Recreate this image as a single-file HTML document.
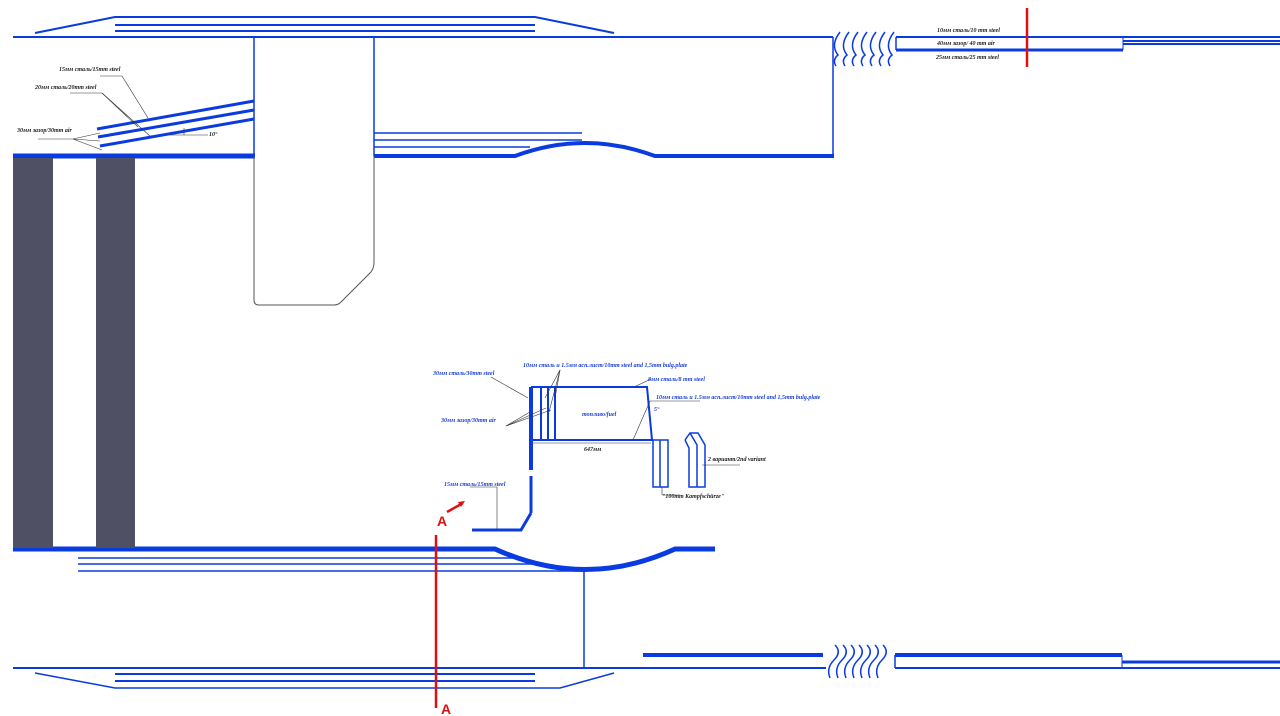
<!DOCTYPE html>
<html><head><meta charset="utf-8"><style>
html,body{margin:0;padding:0;background:#fff;}
svg{display:block;}
text{font-family:"Liberation Serif","Noto Serif CJK SC",serif;font-style:italic;font-weight:bold;font-size:6px;}
</style></head><body>
<svg width="1280" height="716" viewBox="0 0 1280 716" xmlns="http://www.w3.org/2000/svg">
<g fill="none" stroke="#0a3be0">
<!-- top hull -->
<line x1="13" y1="37" x2="833" y2="37" stroke-width="2"/>
<polyline points="35,33 115,17 535,17 614,33" stroke-width="2"/>
<line x1="115" y1="25" x2="535" y2="25" stroke-width="2"/>
<line x1="115" y1="31" x2="535" y2="31" stroke-width="2"/>
<line x1="833" y1="37" x2="833" y2="157" stroke-width="1.5"/>
<line x1="254" y1="37" x2="254" y2="156" stroke-width="1.5"/>
<line x1="374" y1="37" x2="374" y2="156" stroke-width="1.5"/>
<!-- inner top deck -->
<line x1="13" y1="156" x2="255" y2="156" stroke-width="5"/>
<path d="M374,156 L515,156 Q585,130 655,156 L834,156" stroke-width="4"/>
<line x1="374" y1="133" x2="582" y2="133" stroke-width="1.5"/>
<line x1="374" y1="140" x2="582" y2="140" stroke-width="1.5"/>
<line x1="374" y1="147" x2="530" y2="147" stroke-width="1.5"/>
<!-- sloped plates -->
<line x1="97" y1="129" x2="254" y2="101" stroke-width="3"/>
<line x1="98" y1="137" x2="254" y2="110" stroke-width="3"/>
<line x1="100" y1="146" x2="254" y2="119" stroke-width="3"/>
<!-- right top -->
<line x1="896" y1="37" x2="1280" y2="37" stroke-width="2"/>
<line x1="896" y1="50" x2="1123" y2="50" stroke-width="3"/>
<line x1="896" y1="37" x2="896" y2="50" stroke-width="1.5"/>
<line x1="1123" y1="37" x2="1123" y2="50" stroke-width="1"/>
<line x1="1123" y1="41" x2="1280" y2="41" stroke-width="2"/>
<line x1="1123" y1="44" x2="1280" y2="44" stroke-width="2"/>
<line x1="820" y1="37" x2="833" y2="37" stroke-width="2"/>
<g stroke-width="1.5">
<path d="M840,32 Q830,45 838,55 Q832,60 836,66"/>
<path d="M849,32 Q839,45 847,55 Q841,60 845,66"/>
<path d="M858,32 Q848,45 856,55 Q850,60 854,66"/>
<path d="M867,32 Q857,45 865,55 Q859,60 863,66"/>
<path d="M876,32 Q866,45 874,55 Q868,60 872,66"/>
<path d="M885,32 Q875,45 883,55 Q877,60 881,66"/>
<path d="M894,32 Q884,45 892,55 Q886,60 890,66"/>
</g>
<!-- bottom deck -->
<path d="M13,549 L495,549 Q585,590 675,549 L715,549" stroke-width="5"/>
<line x1="78" y1="558" x2="515" y2="558" stroke-width="1.5"/>
<line x1="78" y1="564" x2="545" y2="564" stroke-width="1.5"/>
<line x1="78" y1="571" x2="584" y2="571" stroke-width="1.5"/>
<line x1="584" y1="570" x2="584" y2="668" stroke-width="1.5"/>
<line x1="13" y1="668" x2="826" y2="668" stroke-width="2"/>
<polyline points="35,673 115,688 560,688 614,673" stroke-width="1.5"/>
<line x1="115" y1="674" x2="535" y2="674" stroke-width="2"/>
<line x1="115" y1="681" x2="535" y2="681" stroke-width="2"/>
<line x1="643" y1="655" x2="823" y2="655" stroke-width="4"/>
<line x1="895" y1="655" x2="1122" y2="655" stroke-width="4"/>
<line x1="895" y1="668" x2="1280" y2="668" stroke-width="2"/>
<line x1="895" y1="655" x2="895" y2="668" stroke-width="1.5"/>
<line x1="1122" y1="655" x2="1122" y2="668" stroke-width="1"/>
<line x1="1122" y1="662" x2="1280" y2="662" stroke-width="3"/>
<g stroke-width="1.5">
<path d="M835,645 Q842,652 834,660 Q826,668 830,678"/>
<path d="M843,645 Q850,652 842,660 Q834,668 838,678"/>
<path d="M851,645 Q858,652 850,660 Q842,668 846,678"/>
<path d="M859,645 Q866,652 858,660 Q850,668 854,678"/>
<path d="M867,645 Q874,652 866,660 Q858,668 862,678"/>
<path d="M875,645 Q882,652 874,660 Q866,668 870,678"/>
<path d="M883,645 Q890,652 882,660 Q874,668 878,678"/>
</g>
<!-- center section -->
<line x1="531" y1="387" x2="531" y2="470" stroke-width="4"/>
<line x1="531" y1="476" x2="531" y2="513" stroke-width="3"/>
<polyline points="531,513 521,530 472,530" stroke-width="3"/>
<line x1="541" y1="387" x2="541" y2="440" stroke-width="2"/>
<line x1="548" y1="387" x2="548" y2="440" stroke-width="2"/>
<line x1="555" y1="387" x2="555" y2="440" stroke-width="2"/>
<polyline points="531,387 647,387 652,440 531,440" stroke-width="2"/>
<rect x="653" y="440" width="15" height="47" stroke-width="1.5"/>
<line x1="660" y1="440" x2="660" y2="487" stroke-width="1.5"/>
<polyline points="685,440 690,433 698,433 705,445 705,487 689,487 689,448 685,440" stroke-width="1.5"/>
<polyline points="690,433 697,445 697,487" stroke-width="1.5"/>
</g>
<!-- tower -->
<path d="M254,156 L254,300 Q254,305 259,305 L334,305 Q338,305 341,302 L371,272 Q374,268 374,262 L374,156" fill="none" stroke="#555" stroke-width="1"/>
<!-- dark columns -->
<rect x="13" y="158" width="40" height="390" fill="#4f5064"/>
<rect x="96" y="158" width="39" height="390" fill="#4f5064"/>
<!-- leader lines -->
<g stroke="#333" stroke-width="0.6" fill="none">
<line x1="100" y1="76" x2="122" y2="76"/><line x1="122" y1="76" x2="148" y2="118"/>
<line x1="70" y1="93" x2="102" y2="93"/><line x1="102" y1="93" x2="138" y2="127"/><line x1="102" y1="93" x2="150" y2="136"/>
<line x1="38" y1="139" x2="73" y2="139"/><line x1="73" y1="139" x2="100" y2="133"/><line x1="73" y1="139" x2="100" y2="141"/><line x1="73" y1="139" x2="102" y2="150"/>
<line x1="170" y1="135" x2="208" y2="135"/><line x1="184" y1="128" x2="184" y2="135"/>
<line x1="491" y1="377" x2="528" y2="398"/>
<line x1="506" y1="426" x2="530" y2="412"/><line x1="506" y1="426" x2="546" y2="408"/><line x1="506" y1="426" x2="551" y2="410"/>
<line x1="560" y1="370" x2="545" y2="398"/><line x1="560" y1="370" x2="549" y2="412"/><line x1="560" y1="370" x2="555" y2="398"/>
<line x1="651" y1="379" x2="634" y2="387"/>
<line x1="700" y1="401" x2="650" y2="401"/><line x1="650" y1="401" x2="633" y2="440"/>
<line x1="533" y1="443" x2="651" y2="443"/>
<line x1="497" y1="487" x2="497" y2="530"/><line x1="470" y1="487" x2="497" y2="487"/>
<line x1="662" y1="487" x2="662" y2="495"/><line x1="662" y1="495" x2="680" y2="495"/>
<line x1="702" y1="465" x2="740" y2="465"/>
</g>
<!-- red marks -->
<g stroke="#e01010" stroke-width="2.5" fill="none">
<line x1="1027" y1="8" x2="1027" y2="67"/>
<line x1="436" y1="535" x2="436" y2="708"/>
<line x1="447" y1="512" x2="463" y2="503"/>
</g>
<polygon points="465,501 458,502 461,507" fill="#e01010"/>
<text x="437" y="526" fill="#e01010" style="font-size:14px;font-style:normal;font-family:'Liberation Sans',sans-serif">A</text>
<text x="441" y="714" fill="#e01010" style="font-size:14px;font-style:normal;font-family:'Liberation Sans',sans-serif">A</text>
<!-- labels -->
<g fill="#222">
<text x="59" y="71">15мм сталь/15mm steel</text>
<text x="35" y="89">20мм сталь/20mm steel</text>
<text x="17" y="132">30мм зазор/30mm air</text>
<text x="209" y="136">10°</text>
<text x="937" y="32">10мм сталь/10 mm steel</text>
<text x="937" y="45">40мм зазор/ 40 mm air</text>
<text x="936" y="59">25мм сталь/25 mm steel</text>
<text x="584" y="451">647мм</text>
<text x="662" y="498">"100mm Kampfschürze"</text>
<text x="708" y="461">2 вариант/2nd variant</text>
</g>
<g fill="#1a3fd8">
<text x="433" y="375">30мм сталь/30mm steel</text>
<text x="523" y="367">10мм сталь и 1.5мм асп.лист/10mm steel and 1,5mm bulg.plate</text>
<text x="648" y="381">8мм сталь/8 mm steel</text>
<text x="656" y="399">10мм сталь и 1.5мм асп.лист/10mm steel and 1,5mm bulg.plate</text>
<text x="654" y="411">5°</text>
<text x="441" y="422">30мм зазор/30mm air</text>
<text x="582" y="416">топливо/fuel</text>
<text x="444" y="486">15мм сталь/15mm steel</text>
</g>
</svg>
</body></html>
